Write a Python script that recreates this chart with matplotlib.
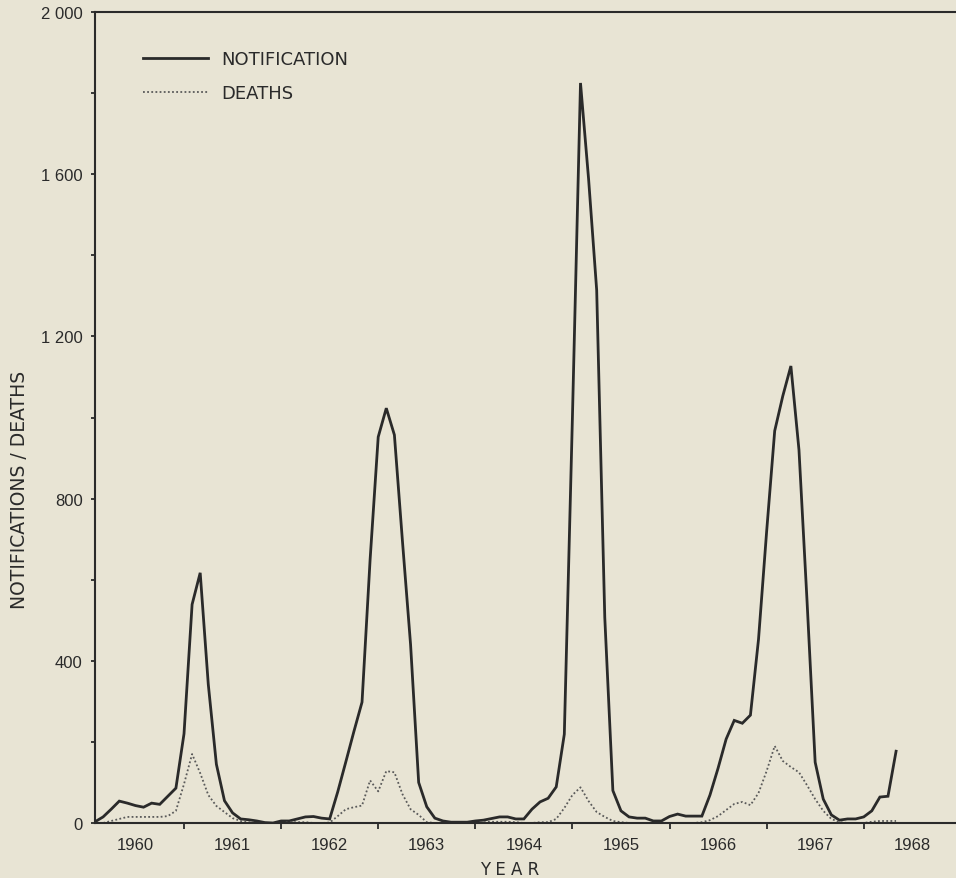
import matplotlib
matplotlib.use("Agg")
import matplotlib.pyplot as plt
import numpy as np

# monthly values, first point = end of January 1960
start_year = 1960
notifications = [
    3, 15, 34, 54, 49, 43, 39, 49, 46, 66, 86, 220,          # 1960
    539, 617, 342, 145, 55, 25, 10, 8, 5, 1, 0, 5,           # 1961
    5, 10, 15, 16, 12, 10, 77, 151, 226, 298, 650, 952,      # 1962
    1023, 957, 694, 440, 100, 40, 12, 5, 2, 2, 2, 5,         # 1963
    7, 11, 15, 15, 10, 10, 34, 52, 61, 89, 219, 999,         # 1964
    1825, 1588, 1314, 507, 80, 30, 15, 12, 12, 5, 5, 16,     # 1965
    22, 17, 17, 17, 69, 135, 207, 253, 246, 266, 453, 718,   # 1966
    967, 1053, 1127, 920, 546, 150, 59, 20, 7, 10, 10, 15,   # 1967
    30, 64, 66, 177,                                         # 1968
]
deaths = [
    0, 0, 5, 10, 15, 15, 15, 15, 15, 17, 30, 96,
    170, 123, 69, 42, 27, 12, 5, 2, 0, 0, 0, 0,
    2, 2, 2, 0, 0, 1, 17, 34, 39, 43, 105, 78,
    128, 125, 71, 34, 20, 2, 0, 0, 0, 0, 0, 0,
    2, 3, 3, 3, 2, 0, 0, 2, 2, 10, 37, 69,
    88, 54, 27, 15, 5, 2, 0, 0, 0, 0, 0, 0,
    0, 0, 0, 2, 7, 17, 32, 47, 52, 44, 74, 128,
    190, 153, 138, 125, 93, 59, 30, 10, 2, 0, 0, 0,
    3, 5, 5, 5,
]
year_labels = ['1960', '1961', '1962', '1963', '1964', '1965', '1966', '1967', '1968']
y_ticks = [0, 400, 800, 1200, 1600, 2000]
y_tick_labels = ['0', '400', '800', '1 200', '1 600', '2 000']

months = np.arange(1, len(notifications) + 1)
x_notif = start_year + months / 12
x_deaths = start_year + np.arange(1, len(deaths) + 1) / 12

paper = '#e8e4d4'
ink = '#2a2a2a'
narrow = ['Liberation Sans Narrow', 'Liberation Sans', 'DejaVu Sans']

fig = plt.figure(figsize=(9.56, 8.79), dpi=100)
fig.patch.set_facecolor(paper)
ax = fig.add_axes([95 / 956, 55 / 879, 861 / 956, 811 / 879])
ax.set_facecolor(paper)

ax.plot(x_notif, notifications, color=ink, lw=2.0, solid_joinstyle='miter',
        label='NOTIFICATION')
ax.plot(x_deaths, deaths, color='#5a5a5a', lw=1.3, linestyle=(0, (1, 1.3)),
        label='DEATHS')

ax.set_xlim(start_year + 1 / 12, start_year + 1 / 12 + 861 / 97.1)
ax.set_ylim(0, 2000)

for side in ['left', 'bottom', 'top']:
    ax.spines[side].set_color(ink)
    ax.spines[side].set_linewidth(1.5)
ax.spines['right'].set_visible(False)

# year boundaries as ticks, labels centred in each year
ax.set_xticks(range(1961, 1969))
ax.set_xticks([int(y) + 0.5 for y in year_labels], minor=True)
ax.set_xticklabels(year_labels, minor=True, family=narrow, fontsize=12, color=ink)
ax.tick_params(axis='x', which='major', labelbottom=False, direction='out',
               length=4, width=1.3, color=ink)
ax.tick_params(axis='x', which='minor', length=0, pad=10)

ax.set_yticks(y_ticks)
ax.set_yticklabels(y_tick_labels, family=narrow, fontsize=12, color=ink)
ax.set_yticks(range(200, 2000, 400), minor=True)
ax.tick_params(axis='y', which='both', direction='out', length=3, width=1.3,
               color=ink, pad=6)

fig.text(510 / 956, 1 - 870 / 879, 'Y E A R', ha='center', va='center',
         fontsize=12, color=ink, family='DejaVu Sans')
fig.text(20 / 956, 1 - 490 / 879, 'NOTIFICATIONS / DEATHS', rotation=90,
         ha='center', va='center', fontsize=13.5, color=ink, family='DejaVu Sans')

leg = ax.legend(loc='upper left', bbox_to_anchor=(0.0557, 0.953), frameon=False,
                borderpad=0, borderaxespad=0, handlelength=3.6, handletextpad=0.75,
                labelspacing=0.9, prop={'family': 'DejaVu Sans', 'size': 13})
for t in leg.get_texts():
    t.set_color(ink)

fig.savefig('out.png', dpi=100, facecolor=paper)
